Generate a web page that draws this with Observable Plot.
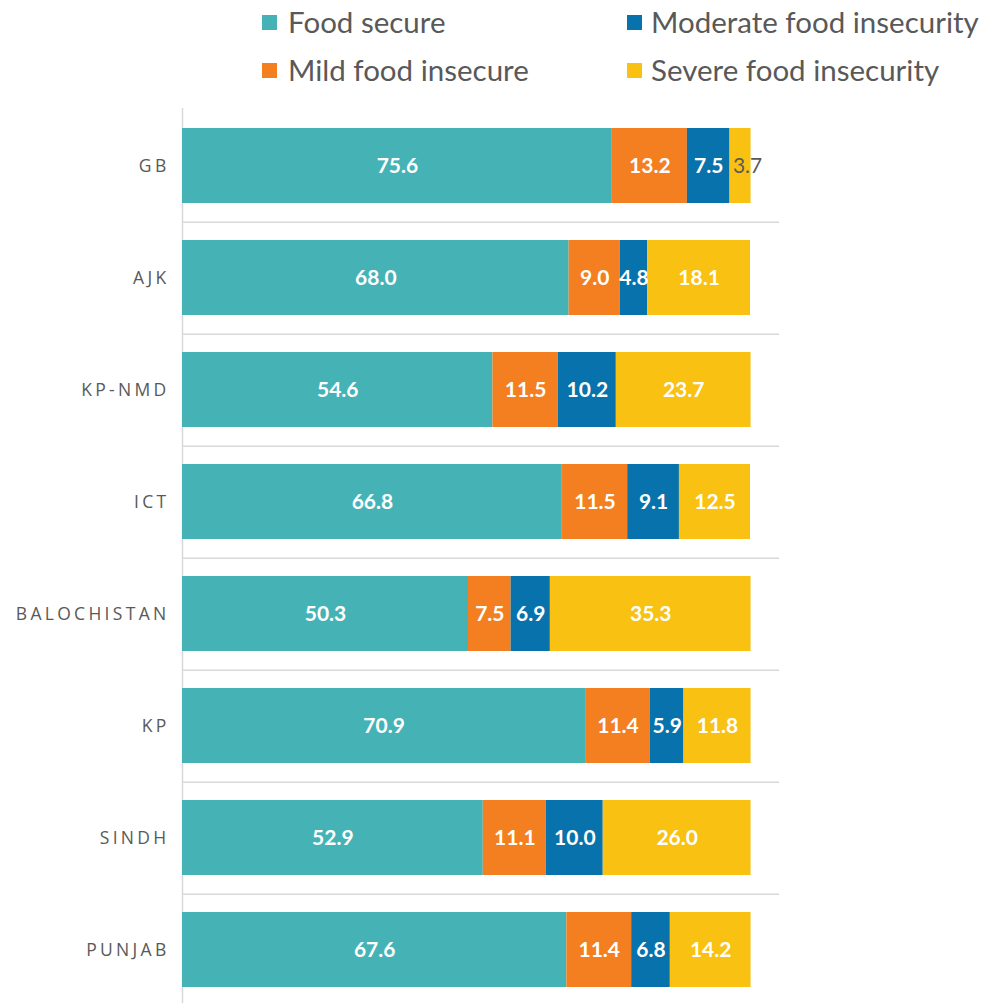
<!DOCTYPE html>
<html>
<head>
<meta charset="utf-8">
<script src="https://cdn.jsdelivr.net/npm/d3@7"></script>
<script src="https://cdn.jsdelivr.net/npm/@observablehq/plot@0.6"></script>
<style>
  html, body { margin: 0; padding: 0; background: #fff; overflow: hidden; }
  #wrap { position: relative; width: 987px; height: 1003px; }
  #legend { position: relative; width: 987px; height: 100px; font-family: Lato, "Open Sans", sans-serif; color: #595959; }
  .sw { position: absolute; width: 15px; height: 15px; }
  .lt { position: absolute; font-size: 29.5px; line-height: 34px; white-space: nowrap; }
  #chart svg { display: block; overflow: visible; }
  #chart [aria-label="y-axis tick label"] text { letter-spacing: 3.3px; }
</style>
</head>
<body>
<div id="wrap">
  <div id="legend"></div>
  <div id="chart"></div>
</div>
<script>
const regions = ["GB", "AJK", "KP-NMD", "ICT", "BALOCHISTAN", "KP", "SINDH", "PUNJAB"];
const categories = ["Food secure", "Mild food insecure", "Moderate food insecurity", "Severe food insecurity"];
const foodSecure = [75.6, 68.0, 54.6, 66.8, 50.3, 70.9, 52.9, 67.6];
const mildInsecure = [13.2, 9.0, 11.5, 11.5, 7.5, 11.4, 11.1, 11.4];
const moderateInsecurity = [7.5, 4.8, 10.2, 9.1, 6.9, 5.9, 10.0, 6.8];
const severeInsecurity = [3.7, 18.1, 23.7, 12.5, 35.3, 11.8, 26.0, 14.2];
const colors = ["#45B3B6", "#F47F20", "#0772AB", "#F9C112"];

const series = [foodSecure, mildInsecure, moderateInsecurity, severeInsecurity];
const data = [];
regions.forEach((r, i) => {
  categories.forEach((c, j) => {
    data.push({region: r, cat: c, value: series[j][i]});
  });
});

// Legend (HTML, above the SVG)
const legendItems = [
  {cat: categories[0], sx: 262, sy: 15, tx: 288, ty: 5},
  {cat: categories[2], sx: 627, sy: 15, tx: 651, ty: 5},
  {cat: categories[1], sx: 262, sy: 63, tx: 288, ty: 53},
  {cat: categories[3], sx: 627, sy: 63, tx: 651, ty: 53}
];
const legend = document.getElementById("legend");
legendItems.forEach(it => {
  const sw = document.createElement("div");
  sw.className = "sw";
  sw.style.left = it.sx + "px";
  sw.style.top = it.sy + "px";
  sw.style.background = colors[categories.indexOf(it.cat)];
  legend.appendChild(sw);
  const t = document.createElement("div");
  t.className = "lt";
  t.style.left = it.tx + "px";
  t.style.top = it.ty + "px";
  t.textContent = it.cat;
  legend.appendChild(t);
});

const isSmall = d => d.value < 4;
const textOpts = (show, extra) => Plot.stackX({
  x: "value", y: "region", z: "cat", order: categories,
  text: d => show(d) ? d.value.toFixed(1) : "",
  fontSize: 21,
  fontFamily: "Lato, sans-serif",
  ...extra
});

const chart = Plot.plot({
  width: 987,
  height: 903,
  marginLeft: 182,
  marginRight: 208,
  marginTop: 8,
  marginBottom: 0,
  style: {fontFamily: "'Open Sans', sans-serif", background: "white"},
  x: {domain: [0, 105], axis: null},
  y: {domain: regions, range: [8, 907], paddingInner: 0.333, paddingOuter: 0.1665, label: null},
  color: {domain: categories, range: colors},
  marks: [
    Plot.ruleY(regions, {y: d => d, x1: 0, x2: 105, dy: 56.19, stroke: "#d9d9d9", strokeWidth: 1.5}),
    Plot.ruleX([0], {stroke: "#d9d9d9", strokeWidth: 1.5}),
    Plot.barX(data, Plot.stackX({x: "value", y: "region", fill: "cat", order: categories})),
    Plot.textX(data, textOpts(d => !isSmall(d), {fill: "#ffffff", fontWeight: "bold"})),
    Plot.textX(data, textOpts(isSmall, {fill: "#595959", fontWeight: "normal", dx: 7})),
    Plot.axisY({tickSize: 0, tickPadding: 13, fontSize: 17.5, fill: "#595959", stroke: null})
  ]
});
document.getElementById("chart").appendChild(chart);
</script>
</body>
</html>
